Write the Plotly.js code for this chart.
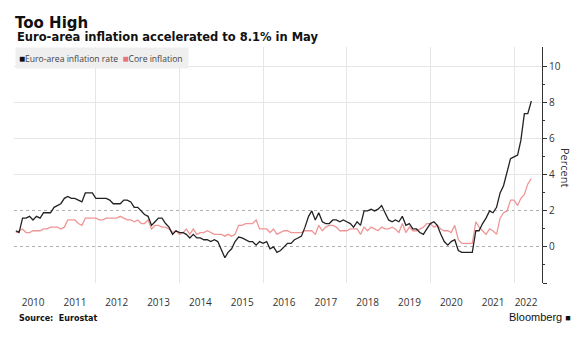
<!DOCTYPE html>
<html>
<head>
<meta charset="utf-8">
<script src="https://cdn.plot.ly/plotly-3.0.1.min.js"></script>
<style>html,body{margin:0;padding:0;background:#fff;}#chart{width:587px;height:338px;}</style>
</head>
<body>
<div id="chart"></div>
<script>
// Monthly data, Jan 2010 - May 2022 (annual % change)
const startYear = 2010;
const headline = [
  0.9, 0.8, 1.6, 1.6, 1.7, 1.5, 1.7, 1.6, 1.9, 1.9, 1.9, 2.2,
  2.3, 2.4, 2.7, 2.8, 2.7, 2.7, 2.6, 2.5, 3.0, 3.0, 3.0, 2.7,
  2.7, 2.7, 2.7, 2.6, 2.4, 2.4, 2.4, 2.6, 2.6, 2.5, 2.2, 2.2,
  2.0, 1.8, 1.7, 1.2, 1.4, 1.6, 1.6, 1.3, 1.1, 0.7, 0.9, 0.8,
  0.8, 0.7, 0.5, 0.7, 0.5, 0.5, 0.4, 0.4, 0.3, 0.4, 0.3, -0.2,
  -0.6, -0.3, -0.1, 0.3, 0.55, 0.5, 0.4, 0.3, 0.3, 0.1, 0.3, 0.2,
  0.3, -0.1, 0.0, -0.3, -0.2, 0.0, 0.2, 0.2, 0.4, 0.5, 0.6, 1.1,
  1.7, 2.0, 1.5, 1.9, 1.4, 1.3, 1.3, 1.5, 1.5, 1.4, 1.5, 1.4,
  1.3, 1.1, 1.4, 1.2, 2.0, 2.0, 2.1, 2.0, 2.1, 2.3, 1.9, 1.5,
  1.4, 1.5, 1.4, 1.7, 1.2, 1.3, 1.0, 1.0, 0.8, 0.7, 1.0, 1.3,
  1.4, 1.2, 0.7, 0.3, 0.1, 0.3, 0.4, -0.2, -0.3, -0.3, -0.3, -0.3,
  0.9, 0.9, 1.3, 1.6, 2.0, 1.9, 2.2, 3.0, 3.4, 4.1, 4.9, 5.0,
  5.1, 5.9, 7.4, 7.4, 8.1
];
const core = [
  0.8, 0.9, 1.0, 0.8, 0.8, 0.9, 0.9, 0.9, 1.0, 1.0, 1.1, 1.1,
  1.1, 1.0, 1.1, 1.5, 1.5, 1.5, 1.3, 1.2, 1.6, 1.6, 1.6, 1.6,
  1.5, 1.5, 1.6, 1.6, 1.6, 1.6, 1.7, 1.6, 1.5, 1.5, 1.4, 1.5,
  1.3, 1.3, 1.5, 1.0, 1.2, 1.2, 1.1, 1.1, 1.0, 0.8, 0.9, 0.7,
  0.8, 1.0, 0.7, 1.0, 0.7, 0.8, 0.8, 0.9, 0.8, 0.7, 0.7, 0.7,
  0.6, 0.7, 0.6, 0.7, 1.2, 1.2, 1.3, 1.3, 1.3, 1.5, 1.0, 1.0,
  1.0, 0.8, 1.0, 0.7, 0.8, 0.9, 0.9, 0.8, 0.8, 0.8, 0.8, 0.9,
  0.9, 0.9, 0.7, 1.2, 0.9, 1.1, 1.2, 1.2, 1.1, 0.9, 0.9, 0.9,
  1.0, 1.0, 1.0, 0.7, 1.1, 0.9, 1.1, 1.0, 0.9, 1.1, 1.0, 1.0,
  1.1, 1.0, 0.8, 1.3, 0.8, 1.1, 0.9, 0.9, 1.0, 1.1, 1.3, 1.3,
  1.1, 1.2, 1.0, 0.9, 0.9, 0.8, 1.2, 0.4, 0.2, 0.2, 0.2, 0.2,
  1.4, 1.1, 0.9, 0.7, 1.0, 0.9, 0.7, 1.6, 1.9, 2.0, 2.6, 2.6,
  2.3, 2.7, 2.9, 3.5, 3.8
];
const yearLabels = ['2010','2011','2012','2013','2014','2015','2016','2017','2018','2019','2020','2021','2022'];
const yearLabelDates = ['2010-07-01','2011-07-01','2012-07-01','2013-07-01','2014-07-01','2015-07-01','2016-07-01','2017-07-01','2018-07-01','2019-07-01','2020-07-01','2021-07-01','2022-04-15'];
const gridYears = ['2012-01-01','2014-01-01','2016-01-01','2018-01-01','2020-01-01','2022-01-01'];
const yTicks = [-2, 0, 2, 4, 6, 8, 10];
const yTickText = ['', '0', '2', '4', '6', '8', '10'];
const seriesNames = ['Euro-area inflation rate', 'Core inflation'];

// month-end dates for each observation
const months = headline.map((_, i) => {
  const y = startYear + Math.floor(i / 12), m = i % 12 + 1;
  const d = new Date(Date.UTC(y, m, 0));
  return d.toISOString().slice(0, 10);
});

const xRange = ['2010-01-15', '2022-09-01'];
const yRange = [-2, 11.1];

const traces = [
  // empty helper traces so the grid-only overlay axes get drawn
  {x: [null], y: [null], xaxis: 'x2', yaxis: 'y', type: 'scatter', mode: 'lines', showlegend: false, hoverinfo: 'skip'},
  {x: [null], y: [null], xaxis: 'x', yaxis: 'y2', type: 'scatter', mode: 'lines', showlegend: false, hoverinfo: 'skip'},
  {x: [null], y: [null], xaxis: 'x', yaxis: 'y3', type: 'scatter', mode: 'lines', showlegend: false, hoverinfo: 'skip'},
  {x: months, y: core, type: 'scatter', mode: 'lines', name: seriesNames[1],
   line: {color: '#ef9696', width: 1.3}, showlegend: false, hoverinfo: 'skip'},
  {x: months, y: headline, type: 'scatter', mode: 'lines', name: seriesNames[0],
   line: {color: '#222222', width: 1.3}, showlegend: false, hoverinfo: 'skip'}
];

const txt = '#333';
const layout = {
  width: 587, height: 338,
  margin: {l: 14, r: 45, t: 47, b: 55},
  paper_bgcolor: '#fff', plot_bgcolor: 'rgba(0,0,0,0)',
  showlegend: false,
  title: {text: '<b>Too High</b>', font: {family: 'DejaVu Sans', size: 15, color: '#111'},
          xref: 'container', x: 15/587, xanchor: 'left', yref: 'container', y: 1 - 17/338, yanchor: 'top'},
  xaxis: {type: 'date', range: xRange, tickvals: yearLabelDates, ticktext: yearLabels,
          ticks: '', showgrid: false, zeroline: false, showline: false,
          tickfont: {family: 'Open Sans', size: 10, color: txt}, ticklabelstandoff: 12},
  xaxis2: {type: 'date', overlaying: 'x', anchor: 'y', range: xRange, tickvals: gridYears,
           showticklabels: false, ticks: '', showgrid: true, gridcolor: '#e6e6e6', gridwidth: 1, zeroline: false},
  yaxis: {side: 'right', range: yRange, tickvals: yTicks, ticktext: yTickText,
          ticks: 'outside', ticklen: 4, tickcolor: '#333', showline: true, linecolor: '#333', linewidth: 1,
          showgrid: false, zeroline: false, tickfont: {family: 'Open Sans', size: 10, color: txt},
          minor: {tickvals: [-1, 1, 3, 5, 7, 9], ticks: 'outside', ticklen: 2, tickcolor: '#333', showgrid: false}},
  yaxis2: {overlaying: 'y', side: 'right', anchor: 'x', range: yRange, tickvals: [4, 6, 8, 10],
           showticklabels: false, ticks: '', showgrid: true, gridcolor: '#e6e6e6', zeroline: false},
  yaxis3: {overlaying: 'y', side: 'right', anchor: 'x', range: yRange, tickvals: [0, 2],
           showticklabels: false, ticks: '', showgrid: true, gridcolor: '#b0b0b0', griddash: 'dot', gridwidth: 1, zeroline: false},
  annotations: [
    {text: '<b>Euro-area inflation accelerated to 8.1% in May</b>', xref: 'paper', yref: 'paper',
     x: 1/528, y: 1 + (47-37)/236, xanchor: 'left', yanchor: 'middle', showarrow: false,
     font: {family: 'DejaVu Sans', size: 11.5, color: '#111'}},
    {text: "<span style='color:#111;font-size:10px'>■</span>" + seriesNames[0] + "  <span style='color:#e8737a;font-size:10px'>■</span>" + seriesNames[1] + " ",
     xref: 'paper', yref: 'paper', x: 1/528, y: 1 - (58-47)/236, xanchor: 'left', yanchor: 'middle',
     showarrow: false, bgcolor: '#efefef', borderpad: 3,
     font: {family: 'Open Sans', size: 8.6, color: '#444'}},
    {text: 'Percent', xref: 'paper', yref: 'paper', x: (566-14)/528, y: 1 - (167-47)/236,
     xanchor: 'center', yanchor: 'middle', textangle: 90, showarrow: false,
     font: {family: 'Open Sans', size: 11, color: txt}},
    {text: '<b>Source:  Eurostat</b>', xref: 'paper', yref: 'paper', x: (17-14)/528, y: -(318-283)/236,
     xanchor: 'left', yanchor: 'middle', showarrow: false,
     font: {family: 'DejaVu Sans', size: 8, color: '#111'}},
    {text: "Bloomberg <span style='font-size:9px'>■</span>", xref: 'paper', yref: 'paper', x: (573-14)/528, y: -(317-283)/236,
     xanchor: 'right', yanchor: 'middle', showarrow: false,
     font: {family: 'Liberation Sans', size: 11, color: '#111'}}
  ]
};

Plotly.newPlot('chart', traces, layout, {staticPlot: true, displayModeBar: false});
</script>
</body>
</html>
